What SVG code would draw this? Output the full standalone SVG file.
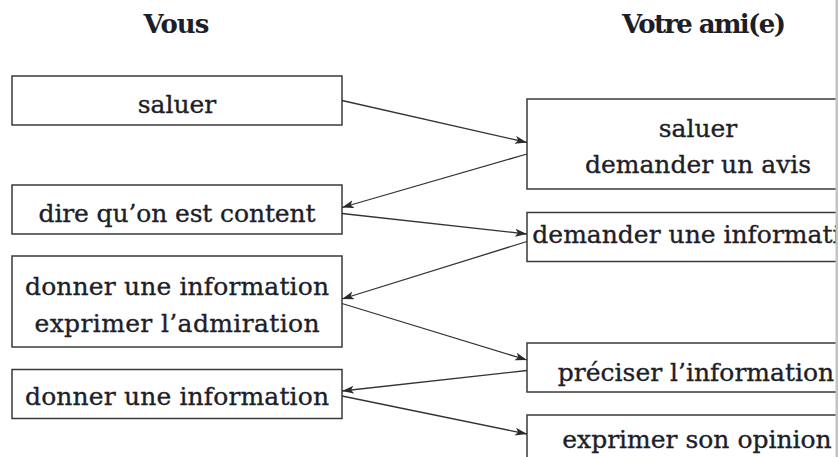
<svg xmlns="http://www.w3.org/2000/svg" width="838" height="457" viewBox="0 0 838 457">
<style>
.box{fill:#fff;stroke:#3a3a3a;stroke-width:1.5}
.t{font-family:"DejaVu Serif","Liberation Serif",serif;font-size:25px;fill:#1e1e28;stroke:#1e1e28;stroke-width:0.35;text-anchor:middle}
.h{font-family:"DejaVu Serif","Liberation Serif",serif;font-size:26px;font-weight:bold;fill:#1e1e28;text-anchor:middle}
.c{stroke:#333;stroke-width:1.3;fill:none;marker-end:url(#ah)}
</style>
<defs>
<marker id="ah" markerUnits="userSpaceOnUse" markerWidth="14" markerHeight="10" refX="12" refY="4" orient="auto">
<path d="M0,0 L12,4 L0,8 L3,4 z" fill="#2a2a2a"/>
</marker>
</defs>
<rect width="838" height="457" fill="#fff"/>
<g id="titles">
<text class="h" x="176.5" y="33.3" textLength="66">Vous</text>
<text class="h" x="704" y="33.3" textLength="164">Votre ami(e)</text>
</g>
<g id="l1"><rect class="box" x="12" y="76" width="330" height="49"/><text class="t" x="177" y="113.3">saluer</text></g>
<g id="l2"><rect class="box" x="12" y="185" width="330" height="49"/><text class="t" x="177" y="221.5" textLength="277">dire qu’on est content</text></g>
<g id="l3"><rect class="box" x="12" y="256" width="330" height="91"/><text class="t" x="177" y="294.5" textLength="304">donner une information</text><text class="t" x="177" y="332" textLength="285">exprimer l’admiration</text></g>
<g id="l4"><rect class="box" x="12" y="369.5" width="330" height="49"/><text class="t" x="177" y="404.5" textLength="304">donner une information</text></g>
<g id="r1"><rect class="box" x="527" y="99" width="342" height="90"/><text class="t" x="698" y="136.5">saluer</text><text class="t" x="698" y="173">demander un avis</text></g>
<g id="r2"><rect class="box" x="527" y="212.5" width="350" height="49"/><text class="t" x="702" y="243">demander une information</text></g>
<g id="r3"><rect class="box" x="527" y="343" width="342" height="49"/><text class="t" x="696" y="381">préciser l’information</text></g>
<g id="r4"><rect class="box" x="527" y="415" width="342" height="60"/><text class="t" x="697" y="448">exprimer son opinion</text></g>
<g id="connectors">
<line class="c" x1="342" y1="100.5" x2="527" y2="142.5"/>
<line class="c" x1="527" y1="154" x2="342" y2="207.5"/>
<line class="c" x1="342" y1="213.5" x2="527" y2="234"/>
<line class="c" x1="527" y1="241.5" x2="342" y2="299"/>
<line class="c" x1="342" y1="303.5" x2="527" y2="360"/>
<line class="c" x1="527" y1="370.5" x2="342" y2="391"/>
<line class="c" x1="342" y1="396" x2="527" y2="434"/>
</g>
<rect x="835.5" y="0" width="3" height="457" fill="#c4c4c4"/>
</svg>
